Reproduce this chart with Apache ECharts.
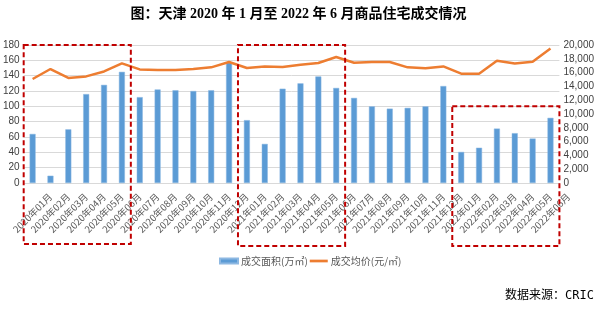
<!DOCTYPE html>
<html><head><meta charset="utf-8">
<script src="https://cdn.jsdelivr.net/npm/echarts@6/dist/echarts.min.js"></script>
<style>html,body{margin:0;padding:0;background:#fff}#c{width:597px;height:309px}</style>
</head><body><div id="c"></div>
<script>
const categories = ["2020年01月","2020年02月","2020年03月","2020年04月","2020年05月","2020年06月","2020年07月","2020年08月","2020年09月","2020年10月","2020年11月","2020年12月","2021年01月","2021年02月","2021年03月","2021年04月","2021年05月","2021年06月","2021年07月","2021年08月","2021年09月","2021年10月","2021年11月","2021年12月","2022年01月","2022年02月","2022年03月","2022年04月","2022年05月","2022年06月"];
const area = [64,9.5,70,116,128,145,112,122,121,120,121,157,82,51,123,130,139,124,111,100,97,98,100,126.5,40.5,46,71,65,58,85];
const price = [15070,16520,15220,15450,16170,17330,16460,16370,16370,16520,16760,17540,16670,16900,16810,17150,17390,18260,17430,17540,17540,16760,16620,16900,15840,15840,17720,17330,17580,19510];
const leftTicks = {min:0,max:180,interval:20};
const rightTicks = {min:0,max:20000,interval:2000};
const seriesNames = ["成交面积(万㎡)","成交均价(元/㎡)"];

const chart = echarts.init(document.getElementById('c'));
const gridL = 23, gridR = 34, gridT = 45, gridB = 126;
chart.setOption({
  animation:false,
  title:{text:"图：天津 2020 年 1 月至 2022 年 6 月商品住宅成交情况",left:'center',top:2,
    textStyle:{fontSize:14,fontWeight:'bold',color:'#000',fontFamily:"'Liberation Serif','Noto Sans CJK SC',serif"}},
  grid:{left:gridL,right:gridR,top:gridT,bottom:gridB},
  legend:{data:[{name:seriesNames[0],icon:'rect',itemStyle:{color:'#5B9BD5'}},
                {name:seriesNames[1],icon:'path://M0,0 L20,0 L20,3 L0,3 Z',itemStyle:{color:'#ED7D31'}}],
    left:214,top:251,itemGap:2,itemWidth:18,itemHeight:5,
    textStyle:{fontSize:10,color:'#595959',fontFamily:"'Noto Sans CJK SC',sans-serif",padding:[0,0,0,-2]}},
  xAxis:{type:'category',data:categories,
    axisLine:{lineStyle:{color:'#D9D9D9'}},axisTick:{show:false},
    axisLabel:{rotate:45,interval:0,fontSize:9.5,color:'#595959',align:'center',verticalAlign:'middle',margin:30,
      fontFamily:"'Noto Sans CJK SC',sans-serif"}},
  yAxis:[
    {type:'value',min:leftTicks.min,max:leftTicks.max,interval:leftTicks.interval,
      axisLabel:{fontSize:10,color:'#404040',margin:4,fontFamily:"'Liberation Sans',sans-serif"},
      axisLine:{show:false},axisTick:{show:false},splitLine:{lineStyle:{color:'#D9D9D9'}}},
    {type:'value',min:rightTicks.min,max:rightTicks.max,interval:rightTicks.interval,
      axisLabel:{fontSize:10,color:'#404040',margin:4,fontFamily:"'Liberation Sans',sans-serif"},
      axisLine:{show:false},axisTick:{show:false},splitLine:{show:false}}
  ],
  series:[
    {name:seriesNames[0],type:'bar',data:area,barWidth:6,yAxisIndex:0,
      itemStyle:{color:'#5B9BD5',borderColor:'#8DB8E2',borderWidth:0.5}},
    {name:seriesNames[1],type:'line',data:price,yAxisIndex:1,symbol:'none',
      lineStyle:{color:'#ED7D31',width:2.5},itemStyle:{color:'#ED7D31'}}
  ]
});

// annotation boxes, located through the axes
const cx = i => chart.convertToPixel({xAxisIndex:0}, categories[i]);
const band = cx(1) - cx(0);
const yTop = chart.convertToPixel({yAxisIndex:0}, 180);
const y100 = chart.convertToPixel({yAxisIndex:0}, 100);
const boxes = [[0,5,yTop,244],[12,17,yTop,246],[24,29,y100,246]];
const dash = {stroke:'#C00000',lineWidth:2,lineDash:[5,3],fill:null};
chart.setOption({graphic:[
  ...boxes.map(b=>{
    const x0 = cx(b[0]) - band/2, x1 = cx(b[1]) + band/2;
    return {type:'rect',shape:{x:x0,y:b[2],width:x1-x0,height:b[3]-b[2]},style:dash,z:100};
  }),
  {type:'text',right:3,top:290,style:{text:'数据来源：CRIC',fill:'#000',
    font:"12px 'DejaVu Sans Mono','Noto Sans CJK SC',monospace"}}
]});
</script></body></html>
